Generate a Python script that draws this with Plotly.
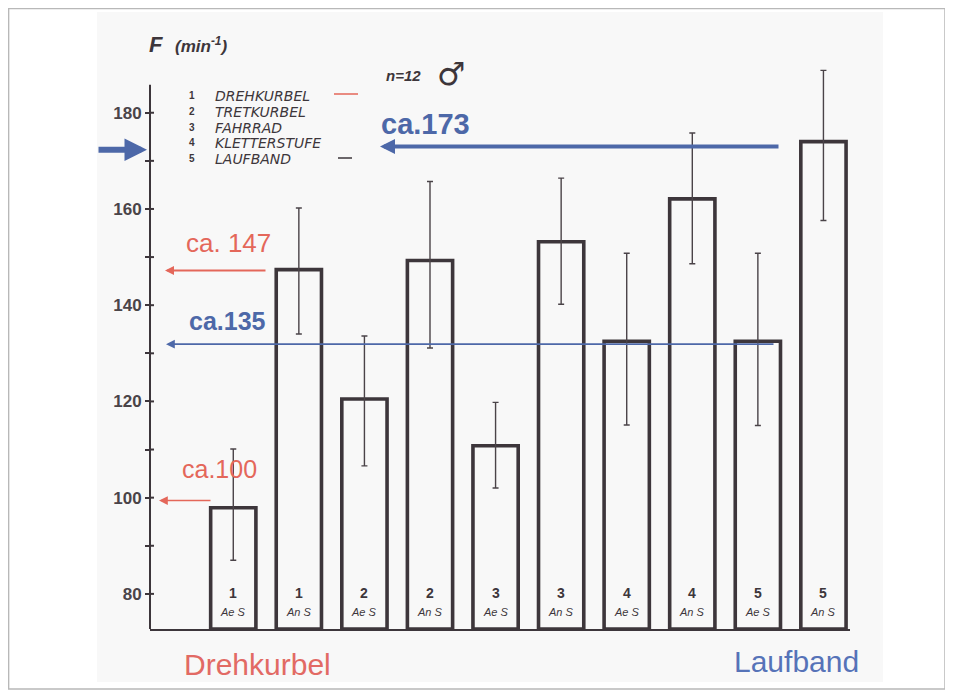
import plotly.graph_objects as go

# ---------------- data ----------------
categories = ["1 AeS", "1 AnS", "2 AeS", "2 AnS", "3 AeS", "3 AnS", "4 AeS", "4 AnS", "5 AeS", "5 AnS"]
bar_numbers = ["1", "1", "2", "2", "3", "3", "4", "4", "5", "5"]
bar_sublabels = ["Ae S", "An S", "Ae S", "An S", "Ae S", "An S", "Ae S", "An S", "Ae S", "An S"]
mean_values = [97.9, 147.4, 120.5, 149.3, 110.8, 153.2, 132.5, 162.1, 132.5, 174.0]
err_upper = [12.2, 12.8, 13.1, 16.4, 9.0, 13.2, 18.3, 13.7, 18.3, 14.8]
err_lower = [10.9, 13.4, 13.9, 18.2, 8.8, 13.0, 17.4, 13.5, 17.5, 16.4]

y_tick_values = [80, 100, 120, 140, 160, 180]
y_minor_values = [90, 110, 130, 150, 170]

legend_numbers = ["1", "2", "3", "4", "5"]
legend_names = ["DREHKURBEL", "TRETKURBEL", "FAHRRAD", "KLETTERSTUFE", "LAUFBAND"]

ref_labels = ["ca.173", "ca. 147", "ca.135", "ca.100"]
ref_values = [173.0, 147.2, 131.9, 99.4]

# ---------------- layout constants ----------------
# the page adds an 8px body margin, so the figure is drawn 8px in from the corner
OFF = 8
W, H = 953 - OFF, 696 - OFF
PL, PR, PT, PB = 150, 850, 55, 629          # plot area in page pixels
Y_MIN, Y_MAX = 72.7, 192.0
AXIS_TOP = 185.8
X_MIN, X_MAX = -1.27, 9.405


def xp(px):
    return (px - PL) / (PR - PL)


def yp(py):
    return (PB - py) / (PB - PT)


DARK = "#3d363b"
BLUE = "#4d68a8"
RED = "#e4675a"

fig = go.Figure()
fig.add_trace(go.Bar(
    x=categories,
    y=[v - Y_MIN for v in mean_values],
    base=Y_MIN,
    width=0.69,
    marker=dict(color="rgba(0,0,0,0)", line=dict(color=DARK, width=3.6)),
    error_y=dict(type="data", symmetric=False, array=err_upper, arrayminus=err_lower,
                 color="#4a4348", thickness=1.4, width=3),
    hoverinfo="skip",
))

shapes = []
# scanned page background + outer frame
shapes.append(dict(type="rect", xref="paper", yref="paper", x0=xp(97), x1=xp(883), y0=yp(682), y1=yp(12),
                   fillcolor="#f8f8f8", line=dict(width=0), layer="below"))
shapes.append(dict(type="rect", xref="paper", yref="paper", x0=xp(8.6), x1=xp(945), y0=yp(689), y1=yp(8.6),
                   fillcolor="rgba(0,0,0,0)", line=dict(color="#b8b8b8", width=1.5), layer="below"))
# y axis line
shapes.append(dict(type="line", xref="paper", yref="y", x0=0, x1=0, y0=Y_MIN, y1=AXIS_TOP,
                   line=dict(color=DARK, width=2)))
# inside halves of ticks
for v in y_tick_values + y_minor_values:
    shapes.append(dict(type="line", xref="paper", yref="y", x0=0, x1=xp(PL + 4), y0=v, y1=v,
                       line=dict(color=DARK, width=2)))
# legend line markers
shapes.append(dict(type="line", xref="paper", yref="paper", x0=xp(334), x1=xp(358), y0=yp(94), y1=yp(94),
                   line=dict(color=RED, width=1.5)))
shapes.append(dict(type="line", xref="paper", yref="paper", x0=xp(338), x1=xp(352), y0=yp(158), y1=yp(158),
                   line=dict(color=DARK, width=1.5)))

ann = []


def label(px, py, text, size, color=DARK, family="Liberation Sans", xanchor="center"):
    ann.append(dict(xref="paper", yref="paper", x=xp(px), y=yp(py), xanchor=xanchor, yanchor="middle",
                    text=text, showarrow=False, font=dict(family=family, size=size, color=color)))


# bar labels at the bottom of each bar
for cat, n, s in zip(categories, bar_numbers, bar_sublabels):
    ann.append(dict(xref="x", yref="paper", x=cat, y=0, yanchor="middle", yshift=PB - 593,
                    text=f"<b>{n}</b>", showarrow=False,
                    font=dict(family="Liberation Sans", size=14, color=DARK)))
    ann.append(dict(xref="x", yref="paper", x=cat, y=0, yanchor="middle", yshift=PB - 612,
                    text=f"<i>{s}</i>", showarrow=False,
                    font=dict(family="Liberation Sans", size=11, color=DARK)))

# reference arrows
ann.append(dict(xref="paper", yref="y", x=xp(147), y=172.3, ax=-50, ay=0, text="",
                showarrow=True, arrowhead=2, arrowsize=0.75, arrowwidth=6, arrowcolor=BLUE))
ann.append(dict(xref="paper", yref="y", x=xp(380), y=ref_values[0], ax=400, ay=0, text="",
                showarrow=True, arrowhead=2, arrowsize=0.75, arrowwidth=4, arrowcolor=BLUE))
ann.append(dict(xref="paper", yref="y", x=xp(165), y=ref_values[1], ax=102, ay=0, text="",
                showarrow=True, arrowhead=2, arrowsize=0.9, arrowwidth=2, arrowcolor=RED))
ann.append(dict(xref="paper", yref="y", x=xp(166), y=ref_values[2], ax=609, ay=0, text="",
                showarrow=True, arrowhead=2, arrowsize=1.1, arrowwidth=1.6, arrowcolor=BLUE))
ann.append(dict(xref="paper", yref="y", x=xp(159), y=ref_values[3], ax=53, ay=0, text="",
                showarrow=True, arrowhead=2, arrowsize=1.1, arrowwidth=1.6, arrowcolor=RED))

# reference labels
label(425, 124, f"<b>{ref_labels[0]}</b>", 29, BLUE)
label(228, 243, ref_labels[1], 26, RED)
label(227, 321, f"<b>{ref_labels[2]}</b>", 25, BLUE)
label(219, 469, ref_labels[3], 25, RED)

# axis title
label(147, 45, "<b><i>F</i></b>", 22, xanchor="left")
label(173, 45, "<b><i>(min<sup>-1</sup>)</i></b>", 17, xanchor="left")

# legend list
legend_y = [96, 112, 127.5, 143, 159]
for n, name, py in zip(legend_numbers, legend_names, legend_y):
    label(192, py, f"<b>{n}</b>", 10)
    label(213, py, f"<i>{name}</i>", 14, family="DejaVu Sans", xanchor="left")

# n = 12 male
label(403, 75, "<b><i>n=12</i></b>", 15)
label(451, 74, "♂", 32, family="DejaVu Sans")

# bottom group labels
label(257, 664, "Drehkurbel", 30, "#e26a64")
label(796, 661, "Laufband", 30, "#5673b8")

fig.update_layout(
    width=W, height=H,
    margin=dict(l=PL - OFF, r=953 - PR, t=PT - OFF, b=696 - PB, pad=0),
    paper_bgcolor="white",
    plot_bgcolor="rgba(0,0,0,0)",
    showlegend=False,
    shapes=shapes,
    annotations=ann,
    xaxis=dict(range=[X_MIN, X_MAX], showticklabels=False, ticks="", showgrid=False, zeroline=False,
               showline=True, linecolor=DARK, linewidth=2, fixedrange=True),
    yaxis=dict(range=[Y_MIN, Y_MAX], tickvals=y_tick_values, ticktext=[str(v) for v in y_tick_values],
               ticks="outside", ticklen=4, tickwidth=2, tickcolor=DARK, ticklabelstandoff=0,
               minor=dict(tickvals=y_minor_values, ticks="outside", ticklen=4, tickwidth=2, tickcolor=DARK),
               tickfont=dict(family="Liberation Sans", size=17, color="#4a4448", weight="bold"),
               showgrid=False, zeroline=False, showline=False, fixedrange=True),
)

fig.write_html("out.html")
